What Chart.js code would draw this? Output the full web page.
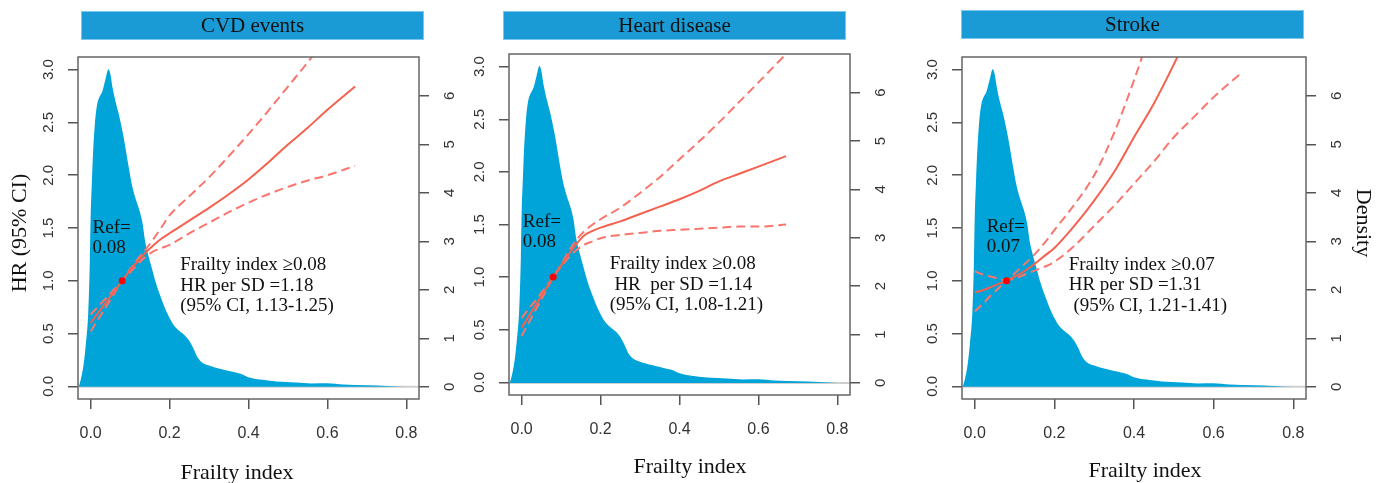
<!DOCTYPE html>
<html>
<head>
<meta charset="utf-8">
<script src="https://cdn.jsdelivr.net/npm/chart.js@4.4.1/dist/chart.umd.min.js"></script>
<style>
  body { margin: 0; background: #fff; }
  #wrap { position: relative; width: 1384px; height: 483px; }
  #wrap canvas { position: absolute; left: 0; top: 0; }
</style>
</head>
<body>
<div id="wrap">
  <canvas id="cvd" width="1384" height="483"></canvas>
  <canvas id="heart" width="1384" height="483"></canvas>
  <canvas id="stroke" width="1384" height="483"></canvas>
</div>
<script>
// tick values / labels
const xTicks = [0, 0.2, 0.4, 0.6, 0.8]
const xTickLabels = ['0.0', '0.2', '0.4', '0.6', '0.8']
const hrTicks = [0, 0.5, 1, 1.5, 2, 2.5, 3]
const hrTickLabels = ['0.0', '0.5', '1.0', '1.5', '2.0', '2.5', '3.0']
const densityTicks = [0, 1, 2, 3, 4, 5, 6]
const densityTickLabels = ['0', '1', '2', '3', '4', '5', '6']

// frailty index distribution (kernel density, right axis)
const densityX = [-0.030, -0.025, -0.018, -0.012, -0.006, -0.002, 0.000, 0.003, 0.006, 0.011, 0.016, 0.021, 0.030, 0.038, 0.045, 0.050, 0.056, 0.064, 0.072, 0.084, 0.095, 0.105, 0.115, 0.125, 0.132, 0.138, 0.145, 0.155, 0.165, 0.180, 0.195, 0.210, 0.225, 0.240, 0.250, 0.260, 0.270, 0.280, 0.300, 0.330, 0.360, 0.380, 0.400, 0.430, 0.470, 0.520, 0.560, 0.600, 0.640, 0.700, 0.750, 0.800]
const densityY = [0, 0.15, 0.45, 0.90, 1.55, 2.60, 3.50, 4.20, 4.80, 5.45, 5.80, 5.95, 6.10, 6.35, 6.55, 6.45, 6.15, 5.85, 5.60, 5.13, 4.60, 4.15, 3.85, 3.60, 3.35, 3.00, 2.75, 2.45, 2.15, 1.80, 1.50, 1.28, 1.15, 1.05, 0.95, 0.80, 0.62, 0.52, 0.44, 0.37, 0.31, 0.27, 0.20, 0.15, 0.11, 0.09, 0.07, 0.075, 0.05, 0.035, 0.02, 0]

// spline HR curves (left axis)
const hrX = [0, 0.02, 0.04, 0.06, 0.08, 0.10, 0.12, 0.14, 0.16, 0.18, 0.20, 0.25, 0.30, 0.35, 0.40, 0.45, 0.50, 0.55, 0.60, 0.67]
const cvdHr    = [0.60, 0.70, 0.80, 0.90, 1.00, 1.10, 1.19, 1.27, 1.34, 1.40, 1.45, 1.57, 1.69, 1.82, 1.96, 2.12, 2.29, 2.45, 2.62, 2.84]
const cvdUpper = [0.68, 0.76, 0.84, 0.92, 1.00, 1.11, 1.21, 1.30, 1.40, 1.51, 1.62, 1.80, 1.98, 2.18, 2.39, 2.61, 2.84, 3.07, 3.31, null]
const cvdLower = [0.52, 0.64, 0.76, 0.88, 1.00, 1.08, 1.16, 1.23, 1.28, 1.31, 1.34, 1.45, 1.55, 1.65, 1.74, 1.82, 1.89, 1.95, 2.00, 2.09]
const heartHr    = [0.52, 0.64, 0.76, 0.88, 1.00, 1.11, 1.22, 1.32, 1.40, 1.44, 1.47, 1.53, 1.60, 1.67, 1.74, 1.82, 1.91, 1.98, 2.05, 2.15]
const heartUpper = [0.61, 0.71, 0.80, 0.90, 1.00, 1.12, 1.25, 1.36, 1.44, 1.50, 1.55, 1.66, 1.80, 1.95, 2.12, 2.29, 2.47, 2.66, 2.85, 3.12]
const heartLower = [0.44, 0.58, 0.72, 0.86, 1.00, 1.10, 1.19, 1.26, 1.31, 1.34, 1.37, 1.40, 1.42, 1.44, 1.45, 1.46, 1.47, 1.48, 1.48, 1.50]
const strokeHr    = [0.89, 0.91, 0.94, 0.97, 1.00, 1.04, 1.08, 1.13, 1.19, 1.25, 1.31, 1.52, 1.76, 2.03, 2.36, 2.68, 3.05, 3.45, null, null]
const strokeUpper = [1.09, 1.06, 1.04, 1.02, 1.00, 1.07, 1.14, 1.21, 1.29, 1.38, 1.48, 1.72, 2.00, 2.40, 2.90, 3.45, null, null, null, null]
const strokeLower = [0.71, 0.78, 0.86, 0.93, 1.00, 1.02, 1.05, 1.08, 1.11, 1.14, 1.18, 1.33, 1.52, 1.71, 1.92, 2.13, 2.36, 2.55, 2.74, 2.97]

const refPoint = [0.08, 1.0]
const panelTitles = ['CVD events', 'Heart disease', 'Stroke']
const refLabels = [['Ref=', '0.08'], ['Ref=', '0.08'], ['Ref=', '0.07']]
const noteLines = [
    ['Frailty index \u22650.08', 'HR per SD =1.18', '(95% CI, 1.13-1.25)'],
    ['Frailty index \u22650.08', ' HR  per SD =1.14', '(95% CI, 1.08-1.21)'],
    ['Frailty index \u22650.07', 'HR per SD =1.31', ' (95% CI, 1.21-1.41)']
]

// layout of each panel on the page (plot region in px)
const panels = [
    { id: 'cvd',    area: [78, 419, 57, 399],   strip: [81, 11, 343, 29],  xTitle: [237, 473], refAt: [0.005, 1.50], noteAt: [0.227, 1.145], yTitle: 'HR (95% CI)' },
    { id: 'heart',  area: [509, 850, 54, 395],  strip: [503, 11, 343, 29], xTitle: [690, 467], refAt: [0.003, 1.52], noteAt: [0.223, 1.12] },
    { id: 'stroke', area: [962, 1306, 57, 399], strip: [961, 10, 343, 29], xTitle: [1145, 471], refAt: [0.030, 1.51], noteAt: [0.236, 1.15], y2Title: 'Density' }
]

const SERIF = '"Liberation Serif", "Times New Roman", serif'
const SANS = '"Liberation Sans", Arial, sans-serif'
const LEFT_W = 40, RIGHT_W = 41, BOTTOM_H = 50

const panelDecor = {
    id: 'panelDecor',
    afterDraw(chart, args, o) {
        const { ctx, chartArea: a, scales } = chart
        ctx.save()
        ctx.strokeStyle = '#666'
        ctx.lineWidth = 1.5
        ctx.strokeRect(a.left, a.top, a.right - a.left, a.bottom - a.top)

        // title strip
        const [bx, by, bw, bh] = o.strip
        ctx.fillStyle = '#1a9bd6'
        ctx.fillRect(bx, by, bw, bh)
        ctx.strokeStyle = '#7cc5ec'
        ctx.lineWidth = 1
        ctx.strokeRect(bx + 0.5, by + 0.5, bw - 1, bh - 1)
        ctx.fillStyle = '#111'
        ctx.font = '21px ' + SERIF
        ctx.textAlign = 'center'
        ctx.textBaseline = 'middle'
        ctx.fillText(o.title, bx + bw / 2, by + bh / 2 + 1)

        // axis titles
        ctx.font = '22px ' + SERIF
        ctx.fillText('Frailty index', o.xTitle[0], o.xTitle[1])
        if (o.yTitle) {
            ctx.save(); ctx.translate(20, 233); ctx.rotate(-Math.PI / 2)
            ctx.fillText(o.yTitle, 0, 0); ctx.restore()
        }
        if (o.y2Title) {
            ctx.save(); ctx.translate(1363, 223); ctx.rotate(Math.PI / 2)
            ctx.fillText(o.y2Title, 0, 0); ctx.restore()
        }

        // in-plot notes
        ctx.font = '19px ' + SERIF
        ctx.textAlign = 'left'
        const drawLines = (lines, at, step) => {
            const x = scales.x.getPixelForValue(at[0])
            const y = scales.y.getPixelForValue(at[1])
            lines.forEach((t, i) => ctx.fillText(t, x, y + i * step))
        }
        drawLines(o.ref, o.refAt, 20)
        drawLines(o.notes, o.noteAt, 20.5)
        ctx.restore()
    }
}

function pts(xs, ys) {
    return xs.map((x, i) => ({ x: x, y: ys[i] }))
}

function fixedTicks(values) {
    return scale => { scale.ticks = values.map(v => ({ value: v })) }
}

function drawPanel(p, idx, hr, upper, lower) {
    const [l, r, t, b] = p.area
    const red = '#f8766d'
    new Chart(document.getElementById(p.id), {
        type: 'line',
        data: {
            datasets: [
                { type: 'scatter', data: [{ x: refPoint[0], y: refPoint[1] }], yAxisID: 'y', pointRadius: 3.5, pointBackgroundColor: '#ff0000', pointBorderWidth: 0 },
                { data: pts(hrX, hr), yAxisID: 'y', borderColor: '#f4624f', borderWidth: 2, pointRadius: 0, cubicInterpolationMode: 'monotone' },
                { data: pts(hrX, upper), yAxisID: 'y', borderColor: red, borderWidth: 2, borderDash: [9, 5], pointRadius: 0, cubicInterpolationMode: 'monotone' },
                { data: pts(hrX, lower), yAxisID: 'y', borderColor: red, borderWidth: 2, borderDash: [9, 5], pointRadius: 0, cubicInterpolationMode: 'monotone' },
                { data: pts(densityX, densityY), yAxisID: 'y2', borderWidth: 0, pointRadius: 0, fill: 'origin', backgroundColor: '#00a4d9', cubicInterpolationMode: 'monotone' },
                { data: [{ x: -0.05, y: 0 }, { x: 0.85, y: 0 }], yAxisID: 'y2', borderColor: '#cfcfcf', borderWidth: 2, pointRadius: 0 }
            ]
        },
        options: {
            responsive: false,
            animation: false,
            layout: { padding: { left: l - LEFT_W, right: 1384 - r - RIGHT_W, top: t, bottom: 483 - b - BOTTOM_H } },
            plugins: {
                legend: { display: false },
                tooltip: { enabled: false },
                panelDecor: { strip: p.strip, title: panelTitles[idx], xTitle: p.xTitle, yTitle: p.yTitle, y2Title: p.y2Title, ref: refLabels[idx], refAt: p.refAt, notes: noteLines[idx], noteAt: p.noteAt }
            },
            scales: {
                x: {
                    type: 'linear', min: -0.032, max: 0.832,
                    afterBuildTicks: fixedTicks(xTicks),
                    afterFit: s => { s.height = BOTTOM_H },
                    grid: { drawOnChartArea: false, tickLength: 10, color: '#555', lineWidth: 1.5 },
                    border: { display: false },
                    ticks: { padding: 15, color: '#333', font: { family: SANS, size: 16 }, maxRotation: 0, callback: (v, i) => xTickLabels[i] }
                },
                y: {
                    position: 'left', min: -0.12, max: 3.12,
                    afterBuildTicks: fixedTicks(hrTicks),
                    afterFit: s => { s.width = LEFT_W },
                    grid: { drawOnChartArea: false, tickLength: 10, color: '#555', lineWidth: 1.5 },
                    border: { display: false },
                    ticks: { padding: 9, crossAlign: 'center', minRotation: 90, maxRotation: 90, color: '#333', font: { family: SANS, size: 15 }, callback: (v, i) => hrTickLabels[i] }
                },
                y2: {
                    position: 'right', min: -0.25, max: 6.8,
                    afterBuildTicks: fixedTicks(densityTicks),
                    afterFit: s => { s.width = RIGHT_W },
                    grid: { drawOnChartArea: false, tickLength: 10, color: '#555', lineWidth: 1.5 },
                    border: { display: false },
                    ticks: { padding: 17, crossAlign: 'center', minRotation: 90, maxRotation: 90, color: '#333', font: { family: SANS, size: 15 }, callback: (v, i) => densityTickLabels[i] }
                }
            }
        },
        plugins: [panelDecor]
    })
}

drawPanel(panels[0], 0, cvdHr, cvdUpper, cvdLower)
drawPanel(panels[1], 1, heartHr, heartUpper, heartLower)
drawPanel(panels[2], 2, strokeHr, strokeUpper, strokeLower)
</script>
</body>
</html>
